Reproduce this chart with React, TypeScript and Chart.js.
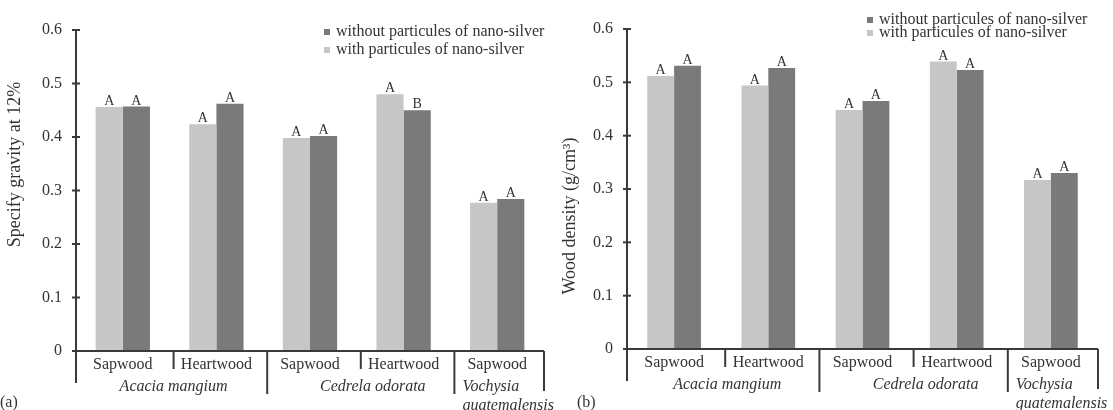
import React, { useEffect, useRef } from "react";
import { Chart, registerables } from "chart.js";

Chart.register(...registerables);

// ---------- data ----------
const subCategories = ["Sapwood", "Heartwood", "Sapwood", "Heartwood", "Sapwood"];
const groupLabels = [["Acacia mangium"], ["Cedrela odorata"], ["Vochysia", "guatemalensis"]];
const groupStarts = [0, 2, 4];
const groupEnds = [1, 3, 4];
const yTickValues = [0, 0.1, 0.2, 0.3, 0.4, 0.5, 0.6];
const yTickLabels = ["0", "0.1", "0.2", "0.3", "0.4", "0.5", "0.6"];
const legendLabels = ["without particules of nano-silver", "with particules of nano-silver"];
const seriesNames = ["with particules of nano-silver", "without particules of nano-silver"];

// (a) specific gravity at 12%
const sgWith = [0.456, 0.424, 0.398, 0.48, 0.277];
const sgWithout = [0.457, 0.462, 0.402, 0.45, 0.284];
const sgWithLetters = ["A", "A", "A", "A", "A"];
const sgWithoutLetters = ["A", "A", "A", "B", "A"];

// (b) wood density
const wdWith = [0.512, 0.494, 0.448, 0.539, 0.317];
const wdWithout = [0.531, 0.527, 0.465, 0.523, 0.33];
const wdWithLetters = ["A", "A", "A", "A", "A"];
const wdWithoutLetters = ["A", "A", "A", "A", "A"];

// ---------- styles ----------
const FONT = "'Liberation Serif', 'Times New Roman', serif";
const TEXT = "#333333";
const AXIS = "#3a3a3a";
const LIGHT = "#c6c6c6";
const DARK = "#7a7a7a";

type PanelCfg = {
  width: number;
  height: number;
  left: number;
  top: number;
  right: number;
  bottom: number;
  title: string;
  titleX: number;
  titleShift: number;
  panelLabel: string;
  panelLabelX: number;
  legendX: number;
  legendY: number;
  legendGap: number;
  catPct: number;
  sepDx: number;
  groupDx: number[];
  withVals: number[];
  withoutVals: number[];
  withLetters: string[];
  withoutLetters: string[];
};

const decorPlugin = {
  id: "decor",
  afterDraw(chart: any) {
    const cfg: PanelCfg = chart.options.plugins.decor.cfg;
    const ctx = chart.ctx;
    const area = chart.chartArea;
    const xs = chart.scales.x;
    const ys = chart.scales.y;
    ctx.save();
    ctx.strokeStyle = AXIS;
    ctx.lineWidth = 2;
    // y axis (extends below x axis)
    ctx.beginPath();
    ctx.moveTo(area.left, area.top);
    ctx.lineTo(area.left, area.bottom + 32);
    ctx.stroke();
    // x axis
    ctx.beginPath();
    ctx.moveTo(area.left, area.bottom);
    ctx.lineTo(area.right, area.bottom);
    ctx.stroke();
    // y tick marks crossing the axis
    yTickValues.forEach((v) => {
      const py = ys.getPixelForValue(v);
      ctx.beginPath();
      ctx.moveTo(area.left - 4, py);
      ctx.lineTo(area.left + 4, py);
      ctx.stroke();
    });
    // separators
    const n = subCategories.length;
    const boundary = (i: number) =>
      i <= 0 ? area.left : i >= n ? area.right : (xs.getPixelForValue(i - 1) + xs.getPixelForValue(i)) / 2 + cfg.sepDx;
    for (let i = 1; i < n; i++) {
      const isGroup = groupStarts.indexOf(i) >= 0;
      const bx = boundary(i);
      ctx.beginPath();
      ctx.moveTo(bx, area.bottom);
      ctx.lineTo(bx, area.bottom + (isGroup ? 43 : 18));
      ctx.stroke();
    }
    ctx.beginPath();
    ctx.moveTo(area.right, area.bottom);
    ctx.lineTo(area.right, area.bottom + 40);
    ctx.stroke();

    // group labels
    ctx.fillStyle = TEXT;
    ctx.font = `italic 16px ${FONT}`;
    ctx.textBaseline = "middle";
    groupLabels.forEach((lines, g) => {
      const l = boundary(groupStarts[g]);
      const r = boundary(groupEnds[g] + 1);
      const single = groupStarts[g] === groupEnds[g];
      lines.forEach((txt, k) => {
        const ty = area.bottom + 36 + k * 19;
        if (single) {
          ctx.textAlign = "left";
          ctx.fillText(txt, l + 8 + cfg.groupDx[g], ty);
        } else {
          ctx.textAlign = "center";
          ctx.fillText(txt, (l + r) / 2 + cfg.groupDx[g], ty);
        }
      });
    });

    // significance letters
    ctx.font = `14px ${FONT}`;
    ctx.textAlign = "center";
    ctx.textBaseline = "alphabetic";
    [cfg.withLetters, cfg.withoutLetters].forEach((letters, di) => {
      const meta = chart.getDatasetMeta(di);
      meta.data.forEach((el: any, i: number) => {
        ctx.fillText(letters[i], el.x, el.y - 2);
      });
    });

    // legend
    ctx.font = `16px ${FONT}`;
    ctx.textAlign = "left";
    ctx.textBaseline = "middle";
    const legendColors = [DARK, LIGHT];
    legendLabels.forEach((lab, k) => {
      const ly = cfg.legendY + k * cfg.legendGap;
      ctx.fillStyle = legendColors[k];
      ctx.fillRect(cfg.legendX - 3, ly - 3, 6, 6);
      ctx.fillStyle = TEXT;
      ctx.fillText(lab, cfg.legendX + 9, ly);
    });

    // axis title
    ctx.save();
    ctx.translate(cfg.titleX, (area.top + area.bottom) / 2 + cfg.titleShift);
    ctx.rotate(-Math.PI / 2);
    ctx.font = `18px ${FONT}`;
    ctx.textAlign = "center";
    ctx.textBaseline = "middle";
    ctx.fillStyle = TEXT;
    ctx.fillText(cfg.title, 0, 0);
    ctx.restore();

    // panel label
    ctx.font = `16px ${FONT}`;
    ctx.textAlign = "left";
    ctx.textBaseline = "middle";
    ctx.fillStyle = TEXT;
    ctx.fillText(cfg.panelLabel, cfg.panelLabelX, 403);
    ctx.restore();
  },
};

function Panel({ cfg, pageLeft }: { cfg: PanelCfg; pageLeft: number }) {
  const ref = useRef<HTMLCanvasElement | null>(null);
  useEffect(() => {
    if (!ref.current) return;
    const chart = new Chart(ref.current, {
      type: "bar",
      data: {
        labels: subCategories,
        datasets: [
          {
            label: seriesNames[0],
            data: cfg.withVals,
            backgroundColor: LIGHT,
            borderWidth: 0,
            categoryPercentage: cfg.catPct,
            barPercentage: 1,
          },
          {
            label: seriesNames[1],
            data: cfg.withoutVals,
            backgroundColor: DARK,
            borderWidth: 0,
            categoryPercentage: cfg.catPct,
            barPercentage: 1,
          },
        ],
      },
      options: {
        responsive: false,
        animation: false,
        layout: {
          padding: { left: 0, top: cfg.top, right: cfg.width - cfg.right, bottom: 0 },
        },
        plugins: {
          legend: { display: false },
          tooltip: { enabled: false },
          decor: { cfg },
        } as any,
        scales: {
          x: {
            type: "category",
            grid: { display: false, drawTicks: false },
            border: { display: false },
            ticks: {
              autoSkip: false,
              maxRotation: 0,
              minRotation: 0,
              padding: 4,
              color: TEXT,
              font: { family: FONT, size: 16 },
            },
            afterFit: (s: any) => {
              s.height = cfg.height - cfg.bottom;
            },
          },
          y: {
            min: 0,
            max: 0.6,
            grid: { display: false, drawTicks: false },
            border: { display: false },
            afterBuildTicks: (s: any) => {
              s.ticks = yTickValues.map((v) => ({ value: v }));
            },
            ticks: {
              padding: 14,
              color: TEXT,
              font: { family: FONT, size: 16 },
              callback: (_v: any, i: number) => yTickLabels[i],
            },
            afterFit: (s: any) => {
              s.width = cfg.left;
            },
          },
        },
      },
      plugins: [decorPlugin],
    } as any);
    return () => chart.destroy();
  }, [cfg]);
  return (
    <canvas
      ref={ref}
      width={cfg.width}
      height={cfg.height}
      style={{ position: "absolute", left: pageLeft, top: 0, width: cfg.width, height: cfg.height }}
    />
  );
}

const panelA: PanelCfg = {
  width: 575,
  height: 410,
  left: 76,
  top: 30,
  right: 544,
  bottom: 351,
  title: "Specify gravity at 12%",
  titleX: 15,
  titleShift: -26,
  panelLabel: "(a)",
  panelLabelX: 0,
  legendX: 327,
  legendY: 32,
  legendGap: 18,
  catPct: 0.58,
  sepDx: 4,
  groupDx: [2, 12, 0],
  withVals: sgWith,
  withoutVals: sgWithout,
  withLetters: sgWithLetters,
  withoutLetters: sgWithoutLetters,
};

const panelB: PanelCfg = {
  width: 557,
  height: 410,
  left: 71,
  top: 29,
  right: 542,
  bottom: 349,
  title: "Wood density (g/cm³)",
  titleX: 14,
  titleShift: 27,
  panelLabel: "(b)",
  panelLabelX: 21,
  legendX: 314,
  legendY: 20,
  legendGap: 13,
  catPct: 0.57,
  sepDx: 4,
  groupDx: [4, 12, 0],
  withVals: wdWith,
  withoutVals: wdWithout,
  withLetters: wdWithLetters,
  withoutLetters: wdWithoutLetters,
};

export default function App() {
  return (
    <div style={{ position: "fixed", left: 0, top: 0, width: 1113, height: 410, background: "#ffffff", overflow: "hidden" }}>
      <Panel cfg={panelA} pageLeft={0} />
      <Panel cfg={panelB} pageLeft={556} />
    </div>
  );
}
